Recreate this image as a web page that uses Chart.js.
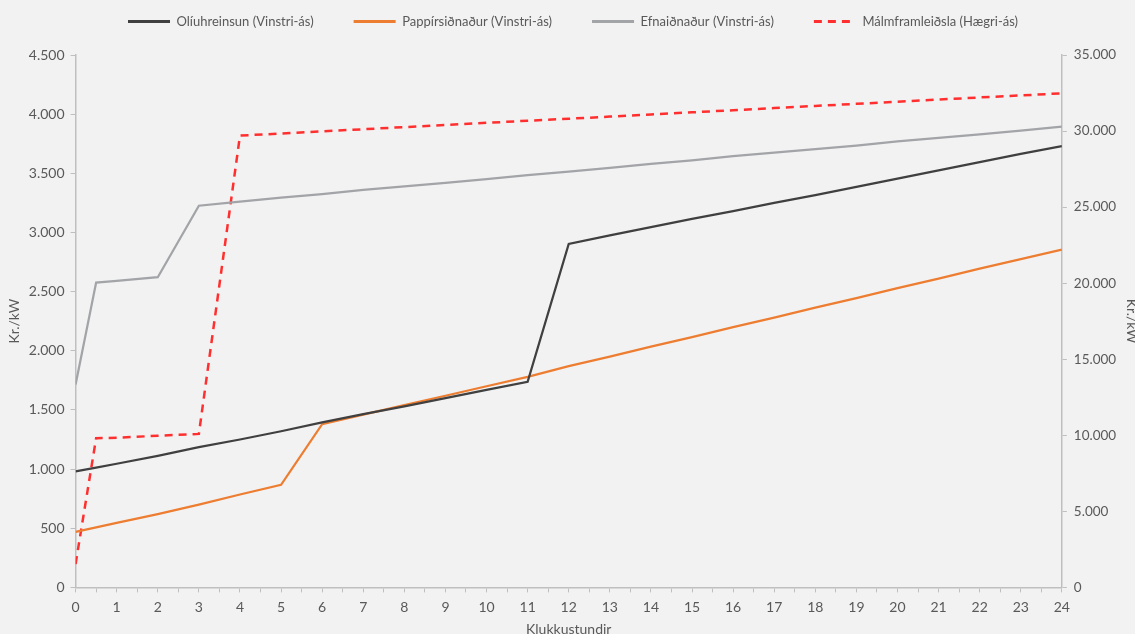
<!DOCTYPE html>
<html>
<head>
<meta charset="utf-8">
<script src="https://cdn.jsdelivr.net/npm/chart.js@4"></script>
<style>
  html, body { margin: 0; padding: 0; background: #f2f2f2; overflow: hidden; }
  #chart { position: relative; width: 1135px; height: 638px; }
</style>
</head>
<body>
<div id="chart"><canvas id="costChart"></canvas></div>
<script>
// Hours since outage and cost per kW for each industry
const hours = [0, 0.5, 1, 2, 3, 4, 5, 6, 7, 8, 9, 10, 11, 12, 13, 14, 15, 16, 17, 18, 19, 20, 21, 22, 23, 24];
const oilRefining = [980, 1012, 1045, 1112, 1185, 1250, 1320, 1395, 1465, 1530, 1600, 1670, 1738, 2903, 2975, 3045, 3115, 3180, 3250, 3315, 3385, 3455, 3525, 3595, 3665, 3730];
const paperMaking = [470, 508, 545, 620, 700, 785, 867, 1380, 1460, 1540, 1620, 1700, 1780, 1870, 1950, 2035, 2115, 2200, 2280, 2365, 2445, 2530, 2610, 2695, 2775, 2855];
const chemicals = [1715, 2576, 2590, 2622, 3226, 3260, 3295, 3325, 3360, 3390, 3420, 3450, 3485, 3515, 3545, 3580, 3610, 3645, 3675, 3705, 3735, 3770, 3800, 3830, 3860, 3894];
const metalProduction = [1540, 9810, 9840, 9970, 10090, 29700, 29840, 29980, 30120, 30260, 30400, 30540, 30680, 30810, 30950, 31090, 31230, 31370, 31510, 31650, 31790, 31930, 32070, 32210, 32340, 32480];

const seriesLabels = ['Olíuhreinsun (Vinstri-ás)', 'Pappírsiðnaður (Vinstri-ás)', 'Efnaiðnaður (Vinstri-ás)', 'Málmframleiðsla (Hægri-ás)'];

const toPoints = values => values.map((v, i) => ({ x: hours[i], y: v }));
const fmt = v => v.toLocaleString('de-DE');

const axisColor = '#bfbfbf';
const textColor = '#595959';
const fontFamily = 'Lato, "Open Sans", sans-serif';

// extra room between legend and plot
const legendGap = {
    id: 'legendGap',
    beforeInit(chart) {
        const fit = chart.legend.fit;
        chart.legend.fit = function () {
            fit.bind(chart.legend)();
            this.height += 17;
        };
    }
};

const ctx = document.getElementById('costChart').getContext('2d');
const costChart = new Chart(ctx, {
    type: 'line',
    data: {
        datasets: [{
            label: seriesLabels[0],
            data: toPoints(oilRefining),
            borderColor: '#404040',
            backgroundColor: '#404040',
            borderWidth: 2.25,
            yAxisID: 'y'
        }, {
            label: seriesLabels[1],
            data: toPoints(paperMaking),
            borderColor: '#ed7d31',
            backgroundColor: '#ed7d31',
            borderWidth: 2.25,
            yAxisID: 'y'
        }, {
            label: seriesLabels[2],
            data: toPoints(chemicals),
            borderColor: '#a2a4a8',
            backgroundColor: '#a2a4a8',
            borderWidth: 2.25,
            yAxisID: 'y'
        }, {
            label: seriesLabels[3],
            data: toPoints(metalProduction),
            borderColor: '#ff2f2f',
            backgroundColor: '#ff2f2f',
            borderWidth: 2.5,
            borderDash: [8, 6],
            yAxisID: 'y1'
        }]
    },
    plugins: [legendGap],
    options: {
        responsive: true,
        maintainAspectRatio: false,
        animation: false,
        layout: { padding: { top: -25, left: 6, right: -5, bottom: 0 } },
        elements: {
            point: { radius: 0, hoverRadius: 0 },
            line: { tension: 0 }
        },
        plugins: {
            tooltip: { enabled: false },
            legend: {
                position: 'top',
                labels: {
                    usePointStyle: true,
                    pointStyle: 'line',
                    pointStyleWidth: 42,
                    boxHeight: 13,
                    padding: 40,
                    color: textColor,
                    font: { family: fontFamily, size: 13 },
                    // legend swatches take the dash and width of the line itself
                    generateLabels(chart) {
                        const items = Chart.defaults.plugins.legend.labels.generateLabels(chart);
                        items.forEach(item => {
                            const ds = chart.data.datasets[item.datasetIndex];
                            item.lineDash = ds.borderDash || [];
                            item.lineWidth = 3;
                            item.strokeStyle = ds.borderColor;
                        });
                        return items;
                    }
                }
            }
        },
        scales: {
            x: {
                type: 'linear',
                min: 0,
                max: 24,
                border: { color: axisColor, width: 1.5 },
                grid: { drawOnChartArea: false, color: axisColor, tickLength: 5 },
                ticks: {
                    stepSize: 0.5,
                    autoSkip: false,
                    maxRotation: 0,
                    color: textColor,
                    font: { family: fontFamily, size: 14 },
                    padding: 7,
                    callback: v => Number.isInteger(v) ? String(v) : ''
                },
                title: {
                    display: true,
                    text: 'Klukkustundir',
                    color: textColor,
                    font: { family: fontFamily, size: 14 },
                    padding: { top: -2, bottom: 0 }
                }
            },
            y: {
                position: 'left',
                min: 0,
                max: 4500,
                border: { color: axisColor, width: 1.5 },
                grid: { drawOnChartArea: false, color: axisColor, tickLength: 5 },
                ticks: {
                    stepSize: 500,
                    color: textColor,
                    font: { family: fontFamily, size: 14 },
                    padding: 6,
                    callback: v => fmt(v)
                },
                title: {
                    display: true,
                    text: 'Kr./kW',
                    color: textColor,
                    font: { family: fontFamily, size: 14 },
                    padding: { top: 0, bottom: 0 }
                }
            },
            y1: {
                position: 'right',
                min: 0,
                max: 35000,
                border: { color: axisColor, width: 1.5 },
                grid: { drawOnChartArea: false, color: axisColor, tickLength: 5 },
                ticks: {
                    stepSize: 5000,
                    color: textColor,
                    font: { family: fontFamily, size: 13.5 },
                    padding: 7,
                    callback: v => fmt(v)
                },
                title: {
                    display: true,
                    text: 'Kr./kW',
                    color: textColor,
                    font: { family: fontFamily, size: 14 },
                    padding: { top: 0, bottom: 0 }
                }
            }
        }
    }
});
</script>
</body>
</html>
